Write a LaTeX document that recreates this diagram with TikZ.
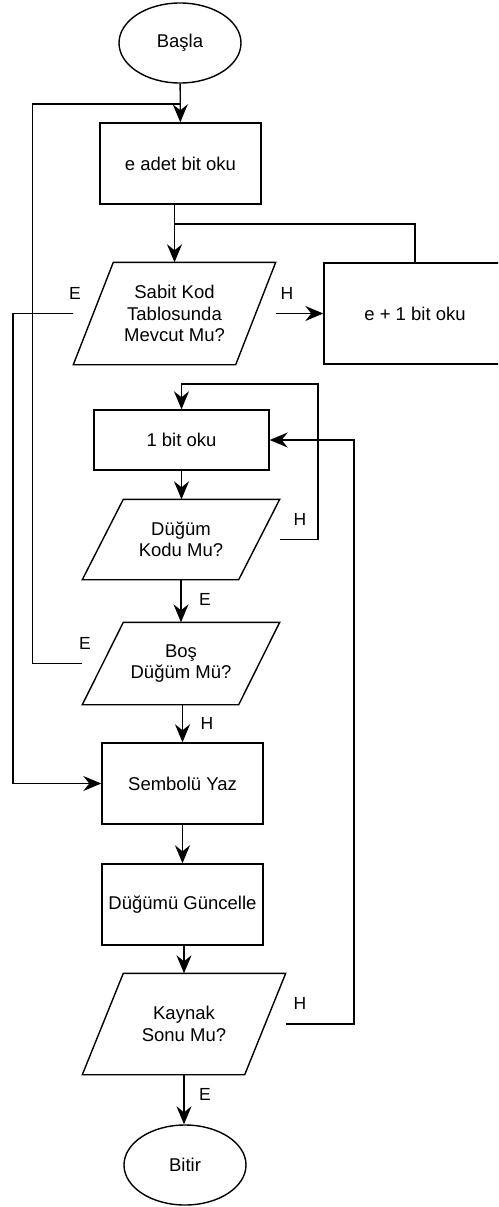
\documentclass[tikz,border=0pt]{standalone}
\usepackage{fontspec}
\setmainfont{Liberation Sans}
\usetikzlibrary{arrows.meta,shapes.geometric}

\tikzset{
  base/.style={font=\fontsize{18.5}{21.5}\selectfont, align=center, inner sep=0pt},
  terminal/.style={base, ellipse, draw, minimum width=122pt, minimum height=80pt},
  process/.style={base, rectangle, draw, minimum width=161pt, minimum height=81pt},
  decision/.style={base, rectangle, minimum width=196pt, minimum height=81pt},
  etiket/.style={font=\fontsize{17.5}{20}\selectfont, inner sep=0pt},
  arr/.style={-{Stealth[length=18pt,width=15pt,inset=6pt]}},
}

\begin{document}
\begin{tikzpicture}[x=1pt, y=-1pt, line width=1.4pt]
  \useasboundingbox (0,0) rectangle (498,1207);
  \clip (0,0) rectangle (498,1207);

  \node[terminal] (basla) at (180,43) {Başla};
  \node[process] (eadet) at (180.5,163.5) {e adet bit oku};
  \node[decision, minimum width=201pt, minimum height=101pt] (sabit) at (174.5,313.5) {Sabit Kod\\Tablosunda\\Mevcut Mu?};
  \node[process, minimum width=182pt, minimum height=101pt] (ebir) at (415,313.5) {e + 1 bit oku};
  \node[process, minimum width=175pt, minimum height=60pt] (birbit) at (181.5,440) {1 bit oku};
  \node[decision, minimum height=79pt] (kodu) at (181,539.5) {Düğüm\\Kodu Mu?};
  \node[decision] (bos) at (181,663.5) {Boş\\Düğüm Mü?};
  \node[process] (sembol) at (182.5,783.5) {Sembolü Yaz};
  \node[process] (guncelle) at (182.5,904.5) {Düğümü Güncelle};
  \node[decision, minimum width=202pt, minimum height=100pt] (kaynak) at (184,1024) {Kaynak\\Sonu Mu?};
  \node[terminal] (bitir) at (185,1165) {Bitir};

  % paralelkenarlar
  \foreach \n/\s in {sabit/40,kodu/41,bos/41,kaynak/41}
    \draw ([xshift=\s pt]\n.north west) -- (\n.north east) -- ([xshift=-\s pt]\n.south east) -- (\n.south west) -- cycle;

  \coordinate (jn) at (174.5,224);
  \coordinate (jt) at (180.5,104);
  \coordinate (sol) at (13,0);
  \coordinate (k1) at (318,384);
  \coordinate (k2) at (354,0);

  \draw[arr] (basla) -- (eadet);
  \draw[arr] (eadet.south -| sabit.north) -- (sabit.north);
  \draw (ebir.north) |- (jn);
  \draw[arr] (sabit.east) -- (ebir.west);
  \draw[arr] (sabit.west) -- (sabit.west -| sol) |- (sembol.west);
  \draw[arr] (birbit.south) -- (birbit.south |- kodu.north);
  \draw[arr] (kodu.east) -| (k1) -| (birbit.north);
  \draw[arr] (kodu.south) -- (bos.north);
  \draw (bos.west) -- ++(-50,0) |- (jt);
  \draw[arr] (bos.south -| sembol.north) -- (sembol.north);
  \draw[arr] (sembol) -- (guncelle);
  \draw[arr] (guncelle.south -| kaynak.north) -- (kaynak.north);
  \draw[arr] (kaynak.east) -| (k2 |- birbit.east) -- (birbit.east);
  \draw[arr] (kaynak.south) -- (kaynak.south |- bitir.north);

  % etiketler
  \node[etiket] (l1) at (75,293) {E};
  \node[etiket] (l2) at (287,293) {H};
  \node[etiket] (l3) at (300,519) {H};
  \node[etiket] (l4) at (205,599) {E};
  \node[etiket] (l5) at (85,643) {E};
  \node[etiket] (l6) at (207,723) {H};
  \node[etiket] (l7) at (300,1003) {H};
  \node[etiket] (l8) at (205,1094) {E};
\end{tikzpicture}
\end{document}
